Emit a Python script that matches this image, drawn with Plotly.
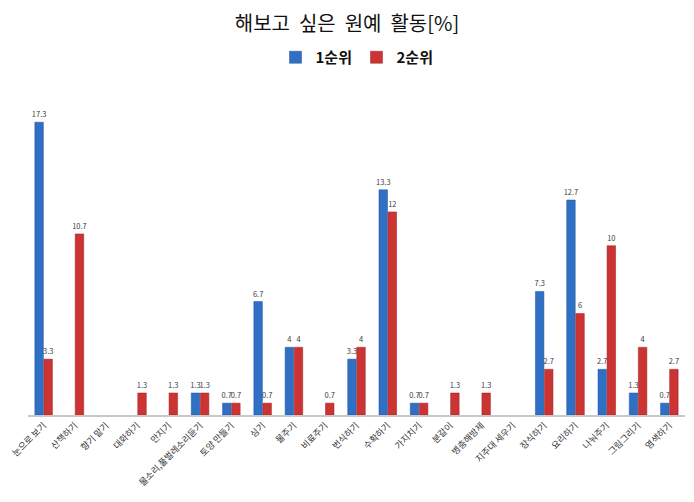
import plotly.graph_objects as go

categories = ["눈으로 보기", "산책하기", "향기 맡기", "대화하기", "만지기",
              "물소리,풀벌레소리듣기", "토양 만들기", "심기", "물주기", "비료주기",
              "번식하기", "수확하기", "가지치기", "분갈이", "병충해방제",
              "지주대 세우기", "장식하기", "요리하기", "나눠주기", "그림그리기", "염색하기"]
rank1 = [17.3, None, None, None, None, 1.3, 0.7, 6.7, 4, None,
         3.3, 13.3, 0.7, None, None, None, 7.3, 12.7, 2.7, 1.3, 0.7]
rank2 = [3.3, 10.7, None, 1.3, 1.3, 1.3, 0.7, 0.7, 4, 0.7,
         4, 12, 0.7, 1.3, 1.3, None, 2.7, 6, 10, 4, 2.7]

def labels(vals):
    return ["" if v is None else f"{v:g}" for v in vals]

FONT = "Noto Sans CJK KR"
fig = go.Figure()
fig.add_trace(go.Bar(x=categories, y=rank1, name="<b>1순위</b>",
                     marker=dict(color="#2f6fc4", line=dict(color="#1f55a0", width=0.5)),
                     text=labels(rank1), textposition="outside", constraintext="none",
                     textfont=dict(size=7.5, color="#404040", family=FONT),
                     cliponaxis=False))
fig.add_trace(go.Bar(x=categories, y=rank2, name="<b>2순위</b>",
                     marker=dict(color="#cc3333", line=dict(color="#a02020", width=0.5)),
                     text=labels(rank2), textposition="outside", constraintext="none",
                     textfont=dict(size=7.5, color="#404040", family=FONT),
                     cliponaxis=False))

fig.update_layout(
    width=694, height=502,
    margin=dict(l=22, r=9, t=90, b=87),
    paper_bgcolor="white", plot_bgcolor="white",
    barmode="group", bargap=0.42, bargroupgap=0.06,
    title=dict(text="해보고  싶은  원예  활동[%]", x=0.5, xanchor="center",
               y=0.952, yanchor="middle",
               font=dict(family=FONT, size=20, color="#111111")),
    legend=dict(orientation="h", x=0.5, xanchor="center", y=1.10, yanchor="middle",
                font=dict(family=FONT, size=15, color="#111111"),
                itemwidth=30, entrywidth=36, entrywidthmode="pixels",
                traceorder="normal"),
    font=dict(family=FONT),
    xaxis=dict(tickangle=-45, tickfont=dict(size=9, color="#333333", family=FONT),
               showline=True, linecolor="#c8c8c8", linewidth=1.5, ticks="",
               showgrid=False),
    yaxis=dict(range=[0, 19.2], visible=False, showgrid=False),
)
fig.write_html("out.html")
